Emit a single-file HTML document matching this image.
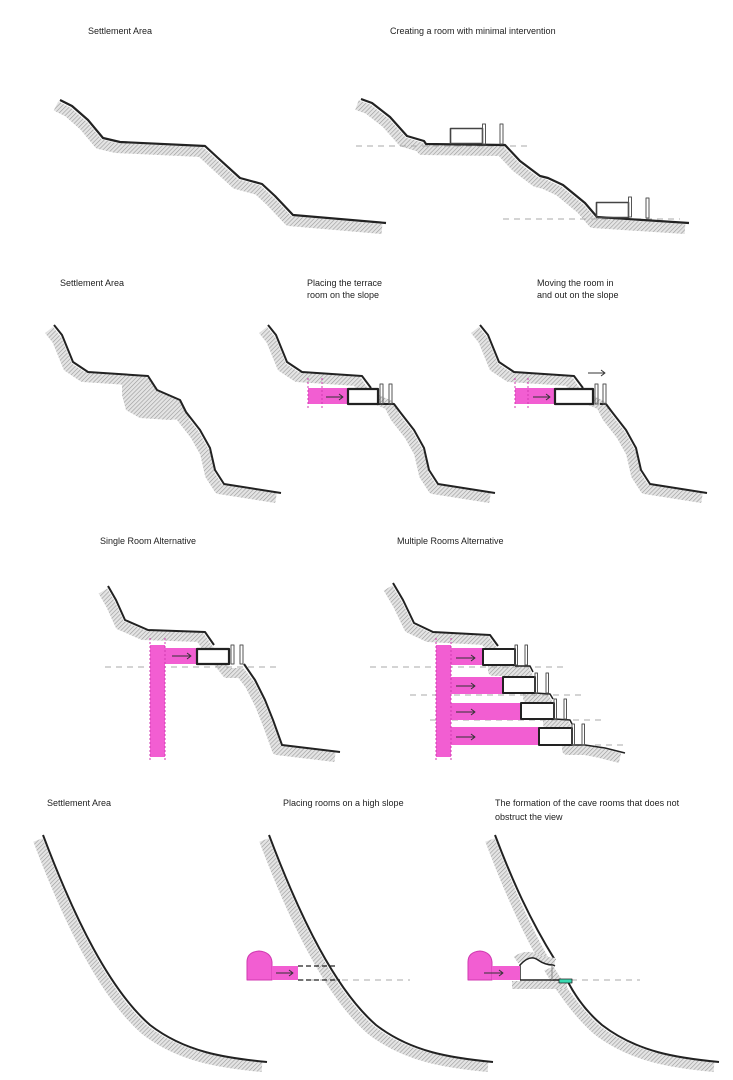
<!DOCTYPE html>
<html><head><meta charset="utf-8"><style>
html,body{margin:0;padding:0;background:#fff;}
svg{display:block;}
text{font-family:"Liberation Sans",sans-serif;font-size:9px;fill:#222;}
</style></head><body>
<svg width="733" height="1080" viewBox="0 0 733 1080" xmlns="http://www.w3.org/2000/svg">
<defs>
<pattern id="h" width="3" height="3" patternUnits="userSpaceOnUse" patternTransform="rotate(45)">
<rect width="3" height="3" fill="#e4e4e4"/><line x1="0" y1="0" x2="0" y2="3" stroke="#999" stroke-width="1.2"/>
</pattern>
</defs>
<g fill="none" stroke-linejoin="round">

<!-- Row 1 -->
<text x="88" y="34">Settlement Area</text>
<text x="390" y="34">Creating a room with minimal intervention</text>
<g>
<polyline transform="translate(-4,6)" stroke="url(#h)" stroke-width="10" points="60,100 72,106 88,120 103,138 120,142 205,146 218,158 240,178 262,184 275,196 293,215 386,223"/>
<polyline stroke="#222" stroke-width="2.2" points="60,100 72,106 88,120 103,138 120,142 205,146 218,158 240,178 262,184 275,196 293,215 386,223"/>
</g>
<g>
<polyline transform="translate(-4,6)" stroke="url(#h)" stroke-width="10" points="361,99 372,103 390,117 407,136 424,141 426,144 505,145 520,161 540,176 548,178 563,185 585,203 597,217 689,223"/>
<line x1="356" y1="146" x2="530" y2="146" stroke="#aaa" stroke-width="1" stroke-dasharray="6,5"/>
<line x1="503" y1="219" x2="680" y2="219" stroke="#aaa" stroke-width="1" stroke-dasharray="6,5"/>
<polyline stroke="#222" stroke-width="2.2" points="361,99 372,103 390,117 407,136 424,141 426,144 505,145 520,161 540,176 548,178 563,185 585,203 597,217 689,223"/>
<rect x="450.5" y="128.5" width="32" height="15" stroke="#444" stroke-width="1.6"/>
<rect x="482.5" y="124" width="3" height="20" stroke="#555" stroke-width="1"/>
<rect x="500" y="124" width="3" height="20" stroke="#555" stroke-width="1"/>
<rect x="596.5" y="202.5" width="32" height="15" stroke="#444" stroke-width="1.6"/>
<rect x="628.5" y="197" width="3" height="20" stroke="#555" stroke-width="1"/>
<rect x="646" y="198" width="3" height="20" stroke="#555" stroke-width="1"/>
</g>

<!-- Row 2 -->
<text x="60" y="286">Settlement Area</text>
<text x="307" y="286">Placing the terrace</text>
<text x="307" y="298">room on the slope</text>
<text x="537" y="286">Moving the room in</text>
<text x="537" y="298">and out on the slope</text>

<g>
<polyline transform="translate(-5,5)" stroke="url(#h)" stroke-width="10" points="54,325 62,335 73,362 88,372 148,376 157,390 180,400 186,412 200,430 210,448 215,470 224,484 281,493"/>
<path d="M122,378 L150,378 L160,392 L182,402 L190,418 L170,420 L140,418 L126,410 L122,395 Z" fill="url(#h)"/>
<polyline stroke="#222" stroke-width="2" points="54,325 62,335 73,362 88,372 148,376 157,390 180,400 186,412 200,430 210,448 215,470 224,484 281,493"/>
</g>

<g transform="translate(214,0)">
<polyline transform="translate(-5,5)" stroke="url(#h)" stroke-width="10" points="54,325 62,335 73,362 88,372 148,376 157,390 180,400 186,412 200,430 210,448 215,470 224,484 281,493"/>
<polyline stroke="#222" stroke-width="2" points="54,325 62,335 73,362 88,372 148,376 157,388"/>
<polyline stroke="#222" stroke-width="2" points="164,404 180,404 186,412 200,430 210,448 215,470 224,484 281,493"/>
<rect x="94" y="388" width="39" height="16" fill="#f25ed2"/>
<line x1="94" y1="378" x2="94" y2="410" stroke="#d03ab0" stroke-width="1" stroke-dasharray="2,2"/>
<line x1="108" y1="378" x2="108" y2="410" stroke="#d03ab0" stroke-width="1" stroke-dasharray="2,2"/>
<line x1="112" y1="397" x2="128" y2="397" stroke="#333" stroke-width="1"/><path d="M125,394 L129,397 L125,400" stroke="#333" stroke-width="1"/>
<rect x="134" y="389" width="30" height="15" fill="#fff" stroke="#222" stroke-width="2.2"/>
<rect x="166" y="384" width="3" height="20" stroke="#555" stroke-width="1"/>
<rect x="175" y="384" width="3" height="20" stroke="#555" stroke-width="1"/>
</g>

<g transform="translate(426,0)">
<polyline transform="translate(-5,5)" stroke="url(#h)" stroke-width="10" points="54,325 62,335 73,362 88,372 148,376 157,390 180,400 186,412 200,430 210,448 215,470 224,484 281,493"/>
<polyline stroke="#222" stroke-width="2" points="54,325 62,335 73,362 88,372 148,376 157,388"/>
<polyline stroke="#222" stroke-width="2" points="174,404 180,404 186,412 200,430 210,448 215,470 224,484 281,493"/>
<rect x="89" y="388" width="40" height="16" fill="#f25ed2"/>
<line x1="89" y1="378" x2="89" y2="410" stroke="#d03ab0" stroke-width="1" stroke-dasharray="2,2"/>
<line x1="102" y1="378" x2="102" y2="410" stroke="#d03ab0" stroke-width="1" stroke-dasharray="2,2"/>
<line x1="107" y1="397" x2="123" y2="397" stroke="#333" stroke-width="1"/><path d="M120,394 L124,397 L120,400" stroke="#333" stroke-width="1"/>
<rect x="129" y="389" width="38" height="15" fill="#fff" stroke="#222" stroke-width="2.2"/>
<rect x="169" y="384" width="3" height="20" stroke="#555" stroke-width="1"/>
<rect x="177" y="384" width="3" height="20" stroke="#555" stroke-width="1"/>
<line x1="162" y1="373" x2="178" y2="373" stroke="#333" stroke-width="1"/><path d="M175,370 L179,373 L175,376" stroke="#333" stroke-width="1"/>
</g>

<!-- Row 3 -->
<text x="100" y="544">Single Room Alternative</text>
<text x="397" y="544">Multiple Rooms Alternative</text>
<g>
<polyline transform="translate(-5,5)" stroke="url(#h)" stroke-width="10" points="108,586 116,600 125,620 148,630 205,632 214,645 232,668 246,668 255,680 265,700 273,720 282,745 340,752"/>
<line x1="105" y1="667" x2="280" y2="667" stroke="#aaa" stroke-width="1" stroke-dasharray="6,5"/>
<polyline stroke="#222" stroke-width="2" points="108,586 116,600 125,620 148,630 205,632 214,645"/>
<polyline stroke="#222" stroke-width="2" points="244,664 255,680 265,700 273,720 282,745 340,752"/>
<rect x="150" y="645" width="15" height="112" fill="#f25ed2"/>
<rect x="165" y="648" width="32" height="16" fill="#f25ed2"/>
<line x1="150" y1="638" x2="150" y2="762" stroke="#d03ab0" stroke-width="1" stroke-dasharray="2,2"/>
<line x1="165" y1="638" x2="165" y2="762" stroke="#d03ab0" stroke-width="1" stroke-dasharray="2,2"/>
<line x1="172" y1="656" x2="190" y2="656" stroke="#333" stroke-width="1"/><path d="M187,653 L191,656 L187,659" stroke="#333" stroke-width="1"/>
<rect x="197" y="649" width="32" height="15" fill="#fff" stroke="#222" stroke-width="2.2"/>
<rect x="231" y="645" width="3" height="19" stroke="#555" stroke-width="1"/>
<rect x="240" y="645" width="3" height="19" stroke="#555" stroke-width="1"/>
</g>

<g>
<polyline transform="translate(-5,5)" stroke="url(#h)" stroke-width="10" points="393,583 403,600 414,623 433,632 490,635 498,646 498,666 530,666 533,672 533,693 550,694 553,699 553,719 570,720 572,724 572,745 590,745 605,748 625,753"/>
<line x1="370" y1="667" x2="565" y2="667" stroke="#aaa" stroke-width="1" stroke-dasharray="6,5"/>
<line x1="410" y1="695" x2="585" y2="695" stroke="#aaa" stroke-width="1" stroke-dasharray="6,5"/>
<line x1="430" y1="720" x2="605" y2="720" stroke="#aaa" stroke-width="1" stroke-dasharray="6,5"/>
<line x1="595" y1="745" x2="625" y2="745" stroke="#aaa" stroke-width="1" stroke-dasharray="6,5"/>
<polyline stroke="#222" stroke-width="2" points="393,583 403,600 414,623 433,632 490,635 498,646"/>
<polyline stroke="#222" stroke-width="1.5" points="515,666 530,666 533,672"/>
<polyline stroke="#222" stroke-width="1.5" points="535,693 550,694 553,699"/>
<polyline stroke="#222" stroke-width="1.5" points="555,719 570,720 572,724"/>
<polyline stroke="#222" stroke-width="1.5" points="572,745 585,745 605,748 625,753"/>
<rect x="436" y="645" width="15" height="112" fill="#f25ed2"/>
<rect x="451" y="648" width="32" height="17" fill="#f25ed2"/>
<rect x="451" y="677" width="52" height="17" fill="#f25ed2"/>
<rect x="451" y="703" width="70" height="17" fill="#f25ed2"/>
<rect x="451" y="727" width="88" height="18" fill="#f25ed2"/>
<line x1="436" y1="638" x2="436" y2="762" stroke="#d03ab0" stroke-width="1" stroke-dasharray="2,2"/>
<line x1="451" y1="638" x2="451" y2="762" stroke="#d03ab0" stroke-width="1" stroke-dasharray="2,2"/>
<g stroke="#333" stroke-width="1">
<line x1="456" y1="658" x2="474" y2="658"/><path d="M471,655 L475,658 L471,661"/>
<line x1="456" y1="686" x2="474" y2="686"/><path d="M471,683 L475,686 L471,689"/>
<line x1="456" y1="712" x2="474" y2="712"/><path d="M471,709 L475,712 L471,715"/>
<line x1="456" y1="737" x2="474" y2="737"/><path d="M471,734 L475,737 L471,740"/>
</g>
<rect x="483" y="649" width="32" height="16" fill="#fff" stroke="#222" stroke-width="2"/>
<rect x="503" y="677" width="32" height="16" fill="#fff" stroke="#222" stroke-width="2"/>
<rect x="521" y="703" width="33" height="16" fill="#fff" stroke="#222" stroke-width="2"/>
<rect x="539" y="728" width="33" height="17" fill="#fff" stroke="#222" stroke-width="2"/>
<g stroke="#555" stroke-width="1">
<rect x="515" y="645" width="2.5" height="20"/><rect x="525" y="645" width="2.5" height="20"/>
<rect x="535" y="673" width="2.5" height="20"/><rect x="546" y="673" width="2.5" height="20"/>
<rect x="554" y="699" width="2.5" height="20"/><rect x="564" y="699" width="2.5" height="20"/>
<rect x="572" y="724" width="2.5" height="21"/><rect x="582" y="724" width="2.5" height="21"/>
</g>
</g>

<!-- Row 4 -->
<text x="47" y="806">Settlement Area</text>
<text x="283" y="806">Placing rooms on a high slope</text>
<text x="495" y="806">The formation of the cave rooms that does not</text>
<text x="495" y="820">obstruct the view</text>

<g>
<path transform="translate(-5,5)" d="M43,835 C75,920 110,990 150,1025 C185,1052 225,1058 267,1062" stroke="url(#h)" stroke-width="10"/>
<path d="M43,835 C75,920 110,990 150,1025 C185,1052 225,1058 267,1062" stroke="#222" stroke-width="2"/>
</g>
<g transform="translate(226,0)">
<path transform="translate(-5,5)" d="M43,835 C75,920 110,990 150,1025 C185,1052 225,1058 267,1062" stroke="url(#h)" stroke-width="10"/>
<path d="M43,835 C75,920 110,990 150,1025 C185,1052 225,1058 267,1062" stroke="#222" stroke-width="2"/>
</g>
<line x1="298" y1="980" x2="410" y2="980" stroke="#aaa" stroke-width="1" stroke-dasharray="6,5"/>
<path d="M247,980 L247,962 Q247,952 259,951 Q271,952 272,962 L272,980 Z" fill="#f25ed2" stroke="#d03ab0" stroke-width="1"/>
<rect x="272" y="966" width="26" height="14" fill="#f25ed2"/>
<line x1="276" y1="973" x2="292" y2="973" stroke="#333" stroke-width="1"/><path d="M289,970 L293,973 L289,976" stroke="#333" stroke-width="1"/>
<line x1="298" y1="966" x2="335" y2="966" stroke="#222" stroke-width="1.2" stroke-dasharray="5,3"/>
<line x1="298" y1="980" x2="340" y2="980" stroke="#222" stroke-width="1.2" stroke-dasharray="5,3"/>

<g transform="translate(452,0)">
<path transform="translate(-5,5)" d="M43,835 C75,920 110,990 150,1025 C185,1052 225,1058 267,1062" stroke="url(#h)" stroke-width="10"/>
<path d="M43,835 C60,880 78,920 103,960 M115,980 C125,1000 137,1014 150,1025 C185,1052 225,1058 267,1062" stroke="#222" stroke-width="2"/>
</g>
<line x1="560" y1="980" x2="640" y2="980" stroke="#aaa" stroke-width="1" stroke-dasharray="6,5"/>
<path d="M516,960 Q528,952 540,960 L555,962" stroke="url(#h)" stroke-width="8"/>
<path d="M512,985 L567,985" stroke="url(#h)" stroke-width="8"/>
<path d="M520,980 L520,965 Q530,954 538,960 Q545,965 553,965 L555,966" fill="#fff" stroke="#222" stroke-width="1.5"/>
<line x1="520" y1="980" x2="560" y2="980" stroke="#222" stroke-width="1.5"/>
<line x1="552" y1="966" x2="552" y2="980" stroke="#888" stroke-width="1"/>
<rect x="559" y="979" width="13" height="4" fill="#37d9b0" stroke="#222" stroke-width="0.8"/>
<path d="M468,980 L468,962 Q468,952 480,951 Q491,952 492,962 L492,980 Z" fill="#f25ed2" stroke="#d03ab0" stroke-width="1"/>
<rect x="492" y="966" width="28" height="14" fill="#f25ed2"/>
<line x1="484" y1="973" x2="502" y2="973" stroke="#333" stroke-width="1"/><path d="M499,970 L503,973 L499,976" stroke="#333" stroke-width="1"/>
</g>
</svg>
</body></html>
